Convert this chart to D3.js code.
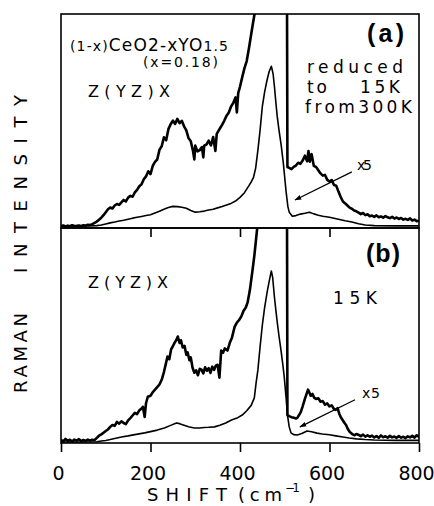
<!DOCTYPE html>
<html><head><meta charset="utf-8">
<script src="https://cdn.jsdelivr.net/npm/d3@7"></script>
<style>html,body{margin:0;padding:0;background:#fff;}svg{display:block;}</style>
</head><body>
<svg id="chart" width="434" height="506"></svg>
<script>
// ---------- DATA ----------
const xTicks = [0, 200, 400, 600, 800];
const xTickLabels = ["0", "200", "400", "600", "800"];
const innerTicks = [200, 400, 600];

// Panel (a): x5 trace
const shiftA5 = [0,5,10,15,20,25,30,35,40,45,50,55,60,65,70,75,80,85,90,95,100,105,110,115,120,125,130,135,140,145,150,155,160,165,170,175,180,185,190,195,200,205,210,215,220,225,230,235,240,245,250,255,260,265,270,275,280,285,290,295,298,300,305,310,315,318,320,325,330,335,340,345,348,355,360,365,370,375,380,385,390,393,396,400,405,410,415,420,425,430,435,445,460,475,490,500,505,506,510,515,520,525,530,535,540,545,550,553,556,560,565,570,575,580,585,590,595,600,605,610,615,620,625,630,635,640,645,650,655,660,665,670,675,680,685,690,695,700,705,710,715,720,725,730,735,740,745,750,755,760,765,770,775,780,785,790,795,800];
const intA5 = [0.9,1.2,0.7,1.1,0.8,1.3,0.9,1.0,1.2,0.8,1.3,1.1,1.5,1.4,1.8,2.4,3.0,3.9,4.8,6.0,7.4,8.8,9.6,9.1,10.5,11.2,10.8,12.0,13.1,12.4,14.2,15.0,14.6,16.6,17.8,19.5,20.4,22.8,24.1,26.5,25.2,29.0,30.9,32.0,36.5,38.2,42.4,41.0,46.2,48.5,50.2,48.6,51.0,49.0,50.1,47.5,45.6,42.0,40.5,36.0,32.0,38.5,35.8,36.4,37.8,33.0,38.5,39.0,40.8,38.6,42.5,36.0,44.0,46.5,48.2,50.2,52.5,54.0,56.8,58.5,61.0,54.0,63.0,66.0,70.5,74.7,78.0,84.0,90.5,97.0,103,115,130,140,130,118,108,28.5,28.1,27.5,28.6,29.2,30.5,30.0,31.5,33.8,31.2,36.0,31.0,34.5,29.0,28.5,27.0,25.5,24.5,24.8,22.5,21.7,22.4,20.1,19.8,17.0,14.5,12.4,11.5,10.5,9.5,9.0,8.2,7.8,7.2,6.5,7.0,6.0,6.4,5.5,5.8,5.2,5.9,5.0,5.4,4.8,5.6,5.0,4.6,5.2,4.4,4.9,4.2,4.7,3.9,4.3,3.8,4.5,3.5,3.9,3.2,3.4];

// Panel (a): x1 trace
const shiftA1 = [0,20,40,60,80,90,100,110,120,130,140,150,160,170,180,190,200,210,220,230,240,250,260,270,280,290,300,310,320,330,340,350,360,370,380,390,400,410,420,425,430,435,440,445,450,455,460,465,470,474,477,480,483,487,492,497,503,507,510,517,525,535,545,555,565,575,585,600,620,635,650,665,680,700,750,800];
const intA1 = [0.8,0.8,0.8,0.9,1.1,1.4,1.9,2.4,2.8,3.3,3.6,4.1,4.6,5.0,5.4,5.8,6.2,7.0,7.8,8.8,9.6,10.1,10.0,9.7,9.2,8.2,7.4,7.6,7.9,8.4,8.8,9.4,10.0,10.8,11.5,12.6,14.3,16.5,19.8,21.5,23.5,28,36.4,46,57,63.5,68.7,73,75.6,72,66,59,52.5,46,38.7,30,17,10,7.4,5.5,5.8,6.5,6.9,7.4,6.6,6.0,5.5,5.0,4.1,3.4,2.8,2.0,1.4,1.1,1.0,1.0];

// Panel (b): x5 trace
const shiftB5 = [0,5,10,15,20,25,30,35,40,45,50,55,60,65,70,75,80,85,90,95,100,105,110,115,120,125,130,135,140,145,150,155,160,165,170,175,180,183,187,190,194,200,205,210,215,220,225,230,235,238,242,246,250,254,258,261,265,268,272,276,280,283,287,290,294,298,302,306,310,314,318,322,326,330,334,338,342,346,350,354,358,362,366,372,377,382,388,393,398,403,408,413,417,422,428,432,436,440,450,470,490,500,505,506,510,515,520,525,528,532,536,540,545,549,552,555,558,562,566,570,575,580,585,590,595,600,605,610,614,618,622,626,630,634,637,641,645,648,652,656,660,666,670,675,680,685,690,695,700,705,710,715,720,725,730,735,740,745,750,755,760,765,770,775,780,785,790,795,800];
const intB5 = [1.4,0.8,1.9,1.0,1.5,0.7,1.6,1.1,1.8,0.9,1.4,1.0,1.6,1.1,1.5,1.3,2.4,3.4,4.0,4.8,5.6,6.3,7.5,8.4,8.0,9.8,9.0,10.1,9.3,8.8,10.5,11.6,12.8,14.0,13.4,15.2,16.0,16.8,12.1,18.5,21.5,22.0,23.6,24.8,26.0,27.2,29.4,33.0,37.5,40.2,39.0,43.5,45.0,46.7,48.0,49.5,46.5,47.8,44.4,45.2,41.0,42.1,38.5,39.8,35.0,32.7,33.8,31.5,34.5,34.1,32.4,35.2,33.6,34.8,32.6,35.5,34.0,36.0,36.4,30.4,43.0,42.0,44.0,43.0,46.5,49.0,54.0,56.0,57.2,58.9,61.5,63.0,65.4,71.0,80.4,87.0,95.0,103,118,135,125,115,108,13.0,12.5,12.0,11.8,11.4,11.7,13.0,14.5,17.0,20.5,23.0,24.8,23.5,22.0,22.8,21.0,20.5,20.8,19.2,19.5,17.8,18.4,17.0,17.5,15.8,15.4,16.2,13.5,11.7,10.5,9.2,8.4,6.5,5.2,4.7,4.0,3.6,4.2,3.7,3.2,3.9,3.0,3.6,2.9,3.4,2.6,3.2,2.4,3.5,2.7,3.1,2.5,3.3,2.6,3.0,2.4,3.2,2.5,2.9,2.3,3.1,2.6,3.3,2.5,3.6,2.8];

// Panel (b): x1 trace
const shiftB1 = [0,40,80,90,100,110,120,135,150,165,187,200,215,231,245,258,265,275,285,298,310,320,330,343,355,368,381,395,405,415,425,432,436,440,445,450,455,461,466,470,473,477,480,483,487,492,496,499,503,506,510,514,520,528,538,550,560,572,584,600,614,630,644,660,680,700,750,800];
const intB1 = [0.5,0.5,0.6,0.9,1.2,1.6,2.1,2.8,3.3,3.9,4.7,5.3,6.0,7.0,8.2,9.3,9.0,8.3,7.6,7.0,7.0,7.2,7.3,7.5,8.3,9.3,10.7,11.8,13.0,15.0,17.5,21,28,34,45,55,63,70.6,76,80,77,67.8,62,56.5,50,42.5,36,30.4,21,13.1,7.5,4.7,3.9,3.7,4.4,5.6,5.2,4.6,4.2,3.8,3.3,2.8,2.3,1.9,1.6,1.4,1.2,1.2];

// ---------- DRAWING ----------
const svg = d3.select("#chart");
const FONT = "DejaVu Sans, Liberation Sans, sans-serif";
const x = d3.scaleLinear().domain([0, 800]).range([61, 419]);
const yA = d3.scaleLinear().domain([0, 100]).range([228, 14]);
const yB = d3.scaleLinear().domain([0, 100]).range([443, 228]);

const defs = svg.append("defs");
[["clipA", yA], ["clipB", yB]].forEach(([id, y]) => {
  defs.append("clipPath").attr("id", id).append("rect")
    .attr("x", x(0)).attr("y", y(100)).attr("width", x(800) - x(0)).attr("height", y(0) - y(100));
});
defs.append("marker").attr("id", "arrow").attr("viewBox", "0 0 10 10")
  .attr("refX", 9).attr("refY", 5).attr("markerWidth", 7).attr("markerHeight", 7)
  .attr("orient", "auto").attr("markerUnits", "userSpaceOnUse")
  .append("path").attr("d", "M0,1.5 L10,5 L0,8.5 z").attr("fill", "#000");

function zip(a, b) { return a.map((v, i) => [v, b[i]]); }

function drawPanel(y, clip, s5, i5, s1, i1) {
  const g = svg.append("g").attr("clip-path", `url(#${clip})`);
  const line = d3.line().x(d => x(d[0])).y(d => y(d[1]));
  g.append("path").datum(zip(s1, i1)).attr("d", line)
    .attr("fill", "none").attr("stroke", "#000").attr("stroke-width", 1.6).attr("stroke-linejoin", "round");
  g.append("path").datum(zip(s5, i5)).attr("d", line)
    .attr("fill", "none").attr("stroke", "#000").attr("stroke-width", 2.6).attr("stroke-linejoin", "round");
  svg.append("rect").attr("x", x(0)).attr("y", y(100))
    .attr("width", x(800) - x(0)).attr("height", y(0) - y(100))
    .attr("fill", "none").attr("stroke", "#000").attr("stroke-width", 1.6);
}
drawPanel(yA, "clipA", shiftA5, intA5, shiftA1, intA1);
drawPanel(yB, "clipB", shiftB5, intB5, shiftB1, intB1);

// Bottom axis
const axB = svg.append("g").attr("transform", `translate(0,${yB(0)})`)
  .call(d3.axisBottom(x).tickValues(xTicks).tickSize(9).tickPadding(15)
    .tickFormat((d, i) => xTickLabels[i]));
axB.select(".domain").remove();
axB.selectAll("line").attr("stroke-width", 1.6);
axB.selectAll("text").attr("font-family", FONT).attr("font-size", 19).attr("dx", -3);

// Inner ticks on top of panel (b)
const axM = svg.append("g").attr("transform", `translate(0,${yB(100)})`)
  .call(d3.axisTop(x).tickValues(innerTicks).tickSize(-9).tickFormat(""));
axM.select(".domain").remove();
axM.selectAll("line").attr("stroke-width", 1.6);

// Text helper
function txt(t, xx, yy, size, len, opts = {}) {
  const e = svg.append("text").attr("x", xx).attr("y", yy)
    .attr("font-family", opts.family || FONT).attr("font-size", size)
    .attr("font-weight", opts.bold ? "bold" : "normal").attr("fill", "#000").text(t);
  if (len) e.attr("textLength", len).attr("lengthAdjust", "spacing");
  if (opts.transform) e.attr("transform", opts.transform);
  return e;
}

// Panel (a) annotations
const formula = svg.append("text").attr("x", 70).attr("y", 51).attr("font-family", FONT)
  .attr("textLength", 158).attr("lengthAdjust", "spacing");
formula.append("tspan").attr("font-size", 14).text("(1-x)");
formula.append("tspan").attr("font-size", 17).text("CeO2-xYO");
formula.append("tspan").attr("font-size", 14).text("1.5");
txt("(x=0.18)", 143, 67, 14, 75);
txt("Z(YZ)X", 88, 97, 16, 82);
txt("(a)", 367, 42, 25, 37, { bold: true, family: "Liberation Sans, Arial, sans-serif" });
txt("reduced", 307, 73, 17, 96);
txt("to", 307, 93, 17, 20);
txt("15K", 360, 93, 17, 40);
txt("from300K", 305, 113, 17, 107);
txt("x5", 357, 170, 14, 15);
svg.append("line").attr("x1", x(650)).attr("y1", yA(26.2)).attr("x2", x(523)).attr("y2", yA(13.1))
  .attr("stroke", "#000").attr("stroke-width", 1.3).attr("marker-end", "url(#arrow)");

// Panel (b) annotations
txt("(b)", 366, 262, 25, 34, { bold: true, family: "Liberation Sans, Arial, sans-serif" });
txt("Z(YZ)X", 88, 288, 16, 80);
txt("15K", 333, 304, 17, 44);
txt("x5", 362, 398, 14, 18);
svg.append("line").attr("x1", x(657)).attr("y1", yB(20.1)).attr("x2", x(534)).attr("y2", yB(7.5))
  .attr("stroke", "#000").attr("stroke-width", 1.3).attr("marker-end", "url(#arrow)");

// Axis titles
txt("SHIFT", 147, 501, 18, 80);
txt("(cm", 238, 501, 18, 44);
txt("\u22121", 285, 492, 12, 15);
txt(")", 308, 501, 18, 7);
txt("INTENSITY", 0, 0, 18, 178, { transform: "translate(26.5,273) rotate(-90)" });
txt("RAMAN", 0, 0, 18, 80, { transform: "translate(26.5,393) rotate(-90)" });
</script>
</body></html>
